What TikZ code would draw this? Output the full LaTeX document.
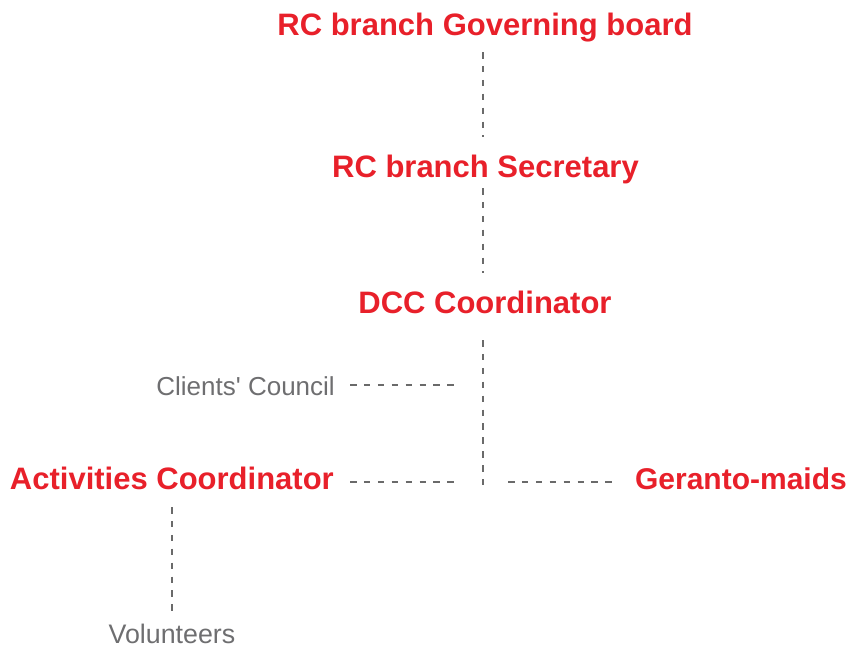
\documentclass[tikz,border=0pt]{standalone}
\usepackage{fontspec}
\setmainfont{Liberation Sans}
\definecolor{rcred}{HTML}{E8202A}
\definecolor{rcgray}{HTML}{6E6E70}
\definecolor{lngray}{HTML}{6A6A6A}
\begin{document}
\begin{tikzpicture}[x=1pt,y=-1pt,
  role/.style={font=\fontsize{31}{36}\selectfont\bfseries, text=rcred, inner sep=0pt},
  minor/.style={font=\fontsize{26}{32}\selectfont, text=rcgray, inner sep=0pt},
  link/.style={draw=lngray, line width=2.7pt, dash pattern=on 6.5pt off 7.4pt}]
\useasboundingbox (0,0) rectangle (851,648);
\node[role, anchor=base] (gov) at (485,35) {RC branch Governing board};
\node[role, anchor=base] (sec) at (485.5,177) {RC branch Secretary};
\node[role, anchor=base] (dcc) at (485,313) {DCC Coordinator};
\node[minor, anchor=base east] (cc) at (335,395) {Clients\textquotesingle{} Council};
\node[role, anchor=base east] (ac) at (334,489) {Activities Coordinator};
\node[role, anchor=base east, font=\fontsize{30}{36}\selectfont\bfseries] (gm) at (847,489) {Geranto-maids};
\node[minor, anchor=base, font=\fontsize{26.8}{32}\selectfont] (vol) at (172,643) {Volunteers};
\coordinate (t1) at (483,52);
\coordinate (b1) at (483,137);
\coordinate (t2) at (483,188);
\coordinate (b2) at (483,273);
\coordinate (t3) at (483,340);
\coordinate (b3) at (483,485);
\coordinate (cl) at (350,385);
\coordinate (cr) at (455,385);
\coordinate (al) at (350,482);
\coordinate (ar) at (455,482);
\coordinate (gl) at (508,482);
\coordinate (gr) at (612,482);
\coordinate (vt) at (172,507);
\coordinate (vb) at (172,611);
\draw[link] (t1) -- (b1);
\draw[link] (t2) -- (b2);
\draw[link] (t3) -- (b3);
\draw[link] (cl) -- (cr);
\draw[link] (al) -- (ar);
\draw[link] (gl) -- (gr);
\draw[link] (vt) -- (vb);
\end{tikzpicture}
\end{document}
